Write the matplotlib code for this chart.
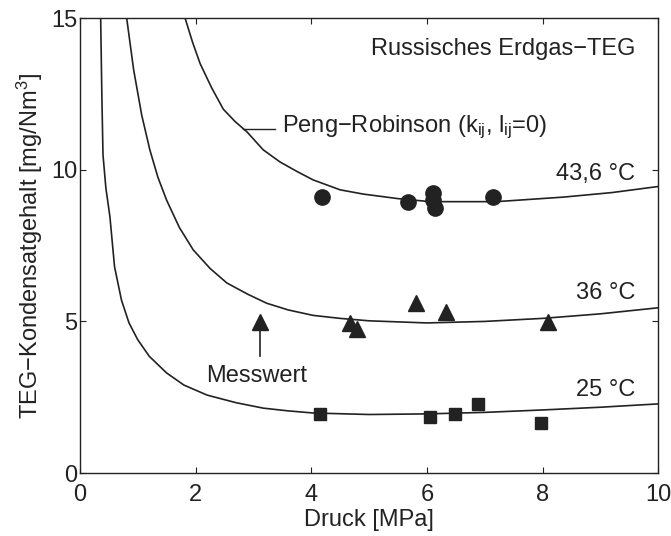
import matplotlib
matplotlib.use('Agg')
from matplotlib import pyplot as plt

plt.rcParams['font.family'] = ['Liberation Sans', 'DejaVu Sans']
plt.rcParams['mathtext.fontset'] = 'custom'
plt.rcParams['mathtext.rm'] = 'Liberation Sans'
plt.rcParams['mathtext.it'] = 'Liberation Sans'

ink = '#222222'

# Peng-Robinson Kurven
p25 = [0.36, 0.38, 0.4, 0.45, 0.52, 0.6, 0.72, 0.85, 1.0, 1.2, 1.5, 1.8, 2.2, 2.7, 3.17, 3.6, 4.03, 5, 6, 7, 8, 9, 10]
c25 = [15, 12.5, 10.5, 9.4, 8.45, 6.8, 5.7, 4.95, 4.4, 3.85, 3.3, 2.9, 2.57, 2.32, 2.14, 2.05, 1.98, 1.93, 1.95, 2.0, 2.08, 2.17, 2.28]
p36 = [0.81, 0.93, 1.07, 1.21, 1.35, 1.5, 1.72, 1.96, 2.25, 2.54, 2.9, 3.23, 3.6, 4.03, 4.5, 5, 6, 7, 8, 9, 10]
c36 = [15, 13.3, 11.8, 10.66, 9.75, 9.0, 8.1, 7.36, 6.75, 6.27, 5.9, 5.6, 5.38, 5.2, 5.1, 5.02, 4.95, 5.0, 5.1, 5.25, 5.45]
p43 = [1.82, 1.95, 2.08, 2.28, 2.48, 2.68, 2.89, 3.17, 3.46, 3.75, 4.03, 4.5, 4.9, 5.5, 6.06, 7.2, 8.36, 9.2, 10]
c43 = [15, 14.2, 13.5, 12.7, 12.0, 11.6, 11.25, 10.66, 10.26, 9.95, 9.67, 9.34, 9.2, 9.05, 8.95, 8.95, 9.1, 9.25, 9.45]

# Messwerte
m25_p = [4.15, 6.06, 6.49, 6.89, 7.98]
m25_c = [1.95, 1.85, 1.95, 2.28, 1.65]
m36_p = [3.11, 4.67, 4.79, 5.81, 6.33, 8.10]
m36_c = [4.98, 4.95, 4.75, 5.6, 5.3, 4.98]
m43_p = [4.18, 5.67, 6.11, 6.14, 6.1, 7.15]
m43_c = [9.1, 8.95, 9.24, 8.75, 9.0, 9.1]

fig = plt.figure(figsize=(6.71, 5.36), dpi=100)
ax = fig.add_axes([0.119, 0.1175, 0.862, 0.8485])

for p, c in [(p25, c25), (p36, c36), (p43, c43)]:
    ax.plot(p, c, color=ink, lw=1.2)

ax.plot(m25_p, m25_c, 's', color=ink, ms=9, mec=ink)
ax.plot(m36_p, m36_c, '^', color=ink, ms=11, mec=ink)
ax.plot(m43_p, m43_c, 'o', color=ink, ms=11, mec=ink)

fs = 17
ax.text(9.6, 14.0, 'Russisches Erdgas\u2212TEG', ha='right', va='center', fontsize=fs, color=ink)
ax.plot([2.82, 3.37], [11.35, 11.35], color=ink, lw=1)
ax.text(3.5, 11.4, 'Peng\u2212Robinson (k$_{\\mathrm{ij}}$, l$_{\\mathrm{ij}}$=0)',
        ha='left', va='center', fontsize=fs, color=ink)
ax.text(9.6, 9.85, '43,6 °C', ha='right', va='center', fontsize=fs, color=ink)
ax.text(9.6, 5.95, '36 °C', ha='right', va='center', fontsize=fs, color=ink)
ax.text(9.6, 2.75, '25 °C', ha='right', va='center', fontsize=fs, color=ink)
ax.text(3.05, 3.2, 'Messwert', ha='center', va='center', fontsize=fs, color=ink)
ax.plot([3.11, 3.11], [3.85, 4.7], color=ink, lw=1.2)

ax.set_xlim(0, 10)
ax.set_ylim(0, 15)
ax.set_xticks([0, 2, 4, 6, 8, 10])
ax.set_yticks([0, 5, 10, 15])
ax.tick_params(direction='in', top=True, right=True, length=4, labelsize=fs, colors=ink, pad=2)
ax.tick_params(axis='x', pad=8)
for s in ax.spines.values():
    s.set_color(ink)
    s.set_linewidth(1)

ax.set_xlabel('Druck [MPa]', fontsize=fs, color=ink, labelpad=2)
ax.set_ylabel('TEG\u2212Kondensatgehalt [mg/Nm$^3$]', fontsize=fs, color=ink, labelpad=4)

fig.savefig('out.png', dpi=100)
